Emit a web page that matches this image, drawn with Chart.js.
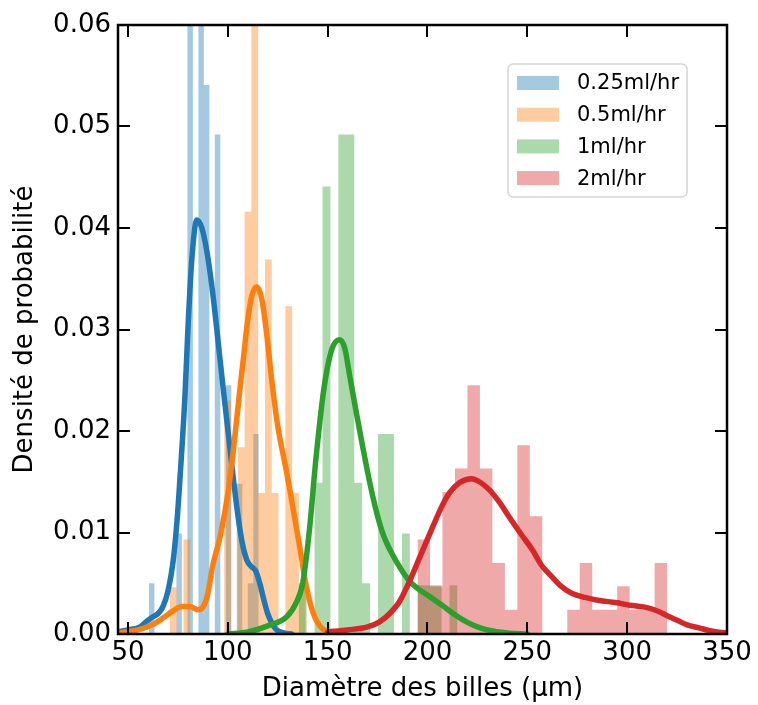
<!DOCTYPE html>
<html>
<head>
<meta charset="utf-8">
<script src="https://cdn.jsdelivr.net/npm/chart.js@4.4.0/dist/chart.umd.min.js"></script>
<style>
  html, body { margin: 0; padding: 0; background: #fff; }
</style>
</head>
<body>
<canvas id="chart" width="758" height="705"></canvas>
<script>
// axis ticks
const xTickValues = [50, 100, 150, 200, 250, 300, 350];
const yTickValues = [0, 0.01, 0.02, 0.03, 0.04, 0.05, 0.06];

const seriesLabels = ['0.25ml/hr', '0.5ml/hr', '1ml/hr', '2ml/hr'];

// histograms: [first edge, last edge] and density of each of the 20 bins
const binRange025 = [60.5, 115.5];
const hist025 = [0.005, 0, 0, 0, 0, 0.0099, 0, 0.09, 0, 0.09, 0.0541, 0, 0.0492, 0, 0.0245, 0, 0.0148, 0, 0.005, 0.0197];

const binRange05 = [71, 139];
const hist05 = [0.0046, 0, 0.0093, 0, 0, 0, 0, 0, 0.023, 0, 0.0184, 0.0416, 0.07, 0.0139, 0.0369, 0.0139, 0, 0.0323, 0.0139, 0.0048];

const binRange1 = [135.5, 215];
const hist1 = [0.005, 0, 0.0149, 0.0441, 0, 0.0492, 0.0492, 0.0149, 0.005, 0, 0.0197, 0.0197, 0, 0.0099, 0, 0.0048, 0.0048, 0.0048, 0, 0.0048];

const binRange2 = [195, 320];
const hist2 = [0.0093, 0.0047, 0.014, 0.0163, 0.0245, 0.0163, 0.007, 0.0024, 0.0186, 0.0116, 0, 0, 0.0024, 0.007, 0.0024, 0.0024, 0.0047, 0.0024, 0.0024, 0.007];

// density curves (kde)
const kdeX025 = [45, 50, 56, 59, 62.5, 65, 67.5, 70, 72.5, 74.5, 76, 78.5, 80, 82, 84.5, 87, 89.5, 92, 94.5, 97.5, 101, 104.5, 107, 109.5, 112, 114, 116, 118, 120, 124, 128, 132];
const kdeY025 = [0.0002, 0.0004, 0.0007, 0.0012, 0.0017, 0.002, 0.0027, 0.0042, 0.007, 0.011, 0.0152, 0.0233, 0.03, 0.037, 0.0408, 0.040, 0.0377, 0.0343, 0.030, 0.0245, 0.0184, 0.0125, 0.0092, 0.0073, 0.0066, 0.0062, 0.005, 0.0034, 0.002, 0.0005, 0.0001, 0];

const kdeX05 = [45, 55, 62, 67, 72, 77, 81, 85, 88, 90, 92.5, 96, 100, 103, 106, 108, 110, 112, 114.5, 117, 119.5, 122, 125, 129.5, 133, 136, 139, 142.5, 146, 150, 155];
const kdeY05 = [0.0001, 0.0004, 0.0009, 0.0015, 0.0022, 0.0027, 0.0027, 0.0024, 0.0028, 0.004, 0.0068, 0.0095, 0.0138, 0.0185, 0.024, 0.0275, 0.031, 0.0333, 0.0342, 0.033, 0.0295, 0.025, 0.0205, 0.0159, 0.012, 0.0086, 0.005, 0.0022, 0.0008, 0.0002, 0];

const kdeX1 = [100, 110, 120, 129.5, 134, 137.5, 141, 144, 148, 152, 156, 158.5, 161, 164, 167.5, 171, 174.5, 178, 182.5, 187, 191, 195, 201, 207.5, 213, 219.5, 225, 230, 240, 250];
const kdeY1 = [0, 0.0002, 0.0008, 0.0017, 0.003, 0.005, 0.0105, 0.017, 0.024, 0.028, 0.029, 0.0282, 0.0255, 0.0222, 0.0185, 0.015, 0.012, 0.0097, 0.0078, 0.0063, 0.0052, 0.0045, 0.0037, 0.0028, 0.002, 0.0012, 0.0007, 0.0004, 0.0001, 0];

const kdeX2 = [150, 160, 170, 176, 181, 186, 191, 196, 202.5, 207, 211, 216, 222, 226, 231, 236, 241, 247, 252.5, 257, 262.5, 267, 272.5, 279, 286, 294, 302.5, 310, 316, 320, 324.5, 330, 336, 342, 350];
const kdeY2 = [0.0002, 0.0004, 0.0007, 0.0012, 0.002, 0.0032, 0.0052, 0.0075, 0.0105, 0.0125, 0.0139, 0.0149, 0.0153, 0.015, 0.0142, 0.013, 0.0115, 0.0098, 0.0083, 0.0068, 0.0056, 0.0047, 0.004, 0.0036, 0.0033, 0.0031, 0.0028, 0.0026, 0.0022, 0.0018, 0.0014, 0.0009, 0.0006, 0.0003, 0.0001];

const lineColors = ['#1f77b4', '#ff7f0e', '#2ca02c', '#d62728'];
const fillColors = ['rgba(31,119,180,0.4)', 'rgba(255,127,14,0.4)', 'rgba(44,160,44,0.4)', 'rgba(214,39,40,0.4)'];

const FONT = '"DejaVu Sans", sans-serif';

// histogram outline as stepped points, filled down to 0
function histPoints(range, heights) {
    const w = (range[1] - range[0]) / heights.length;
    const pts = heights.map((h, i) => ({ x: range[0] + i * w, y: h }));
    pts.push({ x: range[1], y: 0 });
    return pts;
}

function curvePoints(xs, ys) {
    return xs.map((x, i) => ({ x: x, y: ys[i] }));
}

const hists = [[binRange025, hist025], [binRange05, hist05], [binRange1, hist1], [binRange2, hist2]];
const kdes = [[kdeX025, kdeY025], [kdeX05, kdeY05], [kdeX1, kdeY1], [kdeX2, kdeY2]];

const datasets = [];
hists.forEach((h, i) => {
    datasets.push({
        label: seriesLabels[i],
        isHist: true,
        data: histPoints(h[0], h[1]),
        stepped: true,
        fill: 'origin',
        backgroundColor: fillColors[i],
        borderColor: 'rgba(0,0,0,0)',
        borderWidth: 0,
        pointRadius: 0,
        order: 13 - i
    });
});
kdes.forEach((k, i) => {
    datasets.push({
        label: seriesLabels[i] + ' kde',
        data: curvePoints(k[0], k[1]),
        fill: false,
        borderColor: lineColors[i],
        borderWidth: 5.5,
        pointRadius: 0,
        cubicInterpolationMode: 'monotone',
        borderCapStyle: 'round',
        borderJoinStyle: 'round',
        order: 3 - i
    });
});

// black frame + inward ticks on all four sides
const frameTicks = {
    id: 'frameTicks',
    afterDatasetsDraw(chart) {
        const { ctx, chartArea: a, scales: { x, y } } = chart;
        const len = 12;
        ctx.save();
        ctx.strokeStyle = '#000';
        ctx.lineWidth = 2;
        ctx.beginPath();
        xTickValues.forEach(v => {
            const px = Math.round(x.getPixelForValue(v));
            ctx.moveTo(px, a.bottom); ctx.lineTo(px, a.bottom - len);
            ctx.moveTo(px, a.top); ctx.lineTo(px, a.top + len);
        });
        yTickValues.forEach(v => {
            const py = Math.round(y.getPixelForValue(v));
            ctx.moveTo(a.left, py); ctx.lineTo(a.left + len, py);
            ctx.moveTo(a.right, py); ctx.lineTo(a.right - len, py);
        });
        ctx.stroke();
        ctx.lineWidth = 2.5;
        ctx.strokeRect(a.left, a.top, a.right - a.left, a.bottom - a.top);
        ctx.restore();
    }
};

// matplotlib-like legend in the upper right
const legendBox = {
    id: 'legendBox',
    afterDraw(chart) {
        const { ctx, chartArea: a } = chart;
        const items = chart.data.datasets.filter(d => d.isHist);
        const bx = a.right - 219, by = a.top + 39, bw = 179, bh = 133, rowH = 31.7;
        ctx.save();
        ctx.beginPath();
        ctx.roundRect(bx, by, bw, bh, 5);
        ctx.fillStyle = 'rgba(255,255,255,0.8)';
        ctx.fill();
        ctx.strokeStyle = '#d5d5d5';
        ctx.lineWidth = 1.5;
        ctx.stroke();
        ctx.font = '21px ' + FONT;
        ctx.textBaseline = 'middle';
        items.forEach((d, i) => {
            const cy = by + 19 + i * rowH;
            ctx.fillStyle = d.backgroundColor;
            ctx.fillRect(bx + 9, cy - 7, 42, 14);
            ctx.fillStyle = '#000';
            ctx.fillText(d.label, bx + 69, cy + 1);
        });
        ctx.restore();
    }
};

new Chart(document.getElementById('chart'), {
    type: 'line',
    data: { datasets: datasets },
    options: {
        responsive: false,
        animation: false,
        devicePixelRatio: 1,
        layout: { padding: { top: 25, right: 31, left: 0, bottom: 0 } },
        plugins: {
            legend: { display: false },
            tooltip: { enabled: false }
        },
        scales: {
            x: {
                type: 'linear',
                min: 45,
                max: 350,
                afterBuildTicks: s => { s.ticks = xTickValues.map(v => ({ value: v })); },
                afterFit: s => { s.height = 71; },
                grid: { display: false, drawTicks: false },
                border: { display: false },
                ticks: {
                    color: '#000',
                    font: { family: FONT, size: 26 },
                    padding: 4,
                    autoSkip: false,
                    maxRotation: 0
                },
                title: {
                    display: true,
                    text: 'Diamètre des billes (µm)',
                    color: '#000',
                    font: { family: FONT, size: 26 },
                    padding: { top: 0, bottom: 0 }
                }
            },
            y: {
                min: 0,
                max: 0.06,
                afterBuildTicks: s => { s.ticks = yTickValues.map(v => ({ value: v })); },
                afterFit: s => { s.width = 118; },
                grid: { display: false, drawTicks: false },
                border: { display: false },
                ticks: {
                    color: '#000',
                    font: { family: FONT, size: 26 },
                    padding: 7,
                    callback: v => v.toFixed(2)
                },
                title: {
                    display: true,
                    text: 'Densité de probabilité',
                    color: '#000',
                    font: { family: FONT, size: 26 },
                    padding: { top: 10, bottom: 0 }
                }
            }
        }
    },
    plugins: [frameTicks, legendBox]
});
</script>
</body>
</html>
